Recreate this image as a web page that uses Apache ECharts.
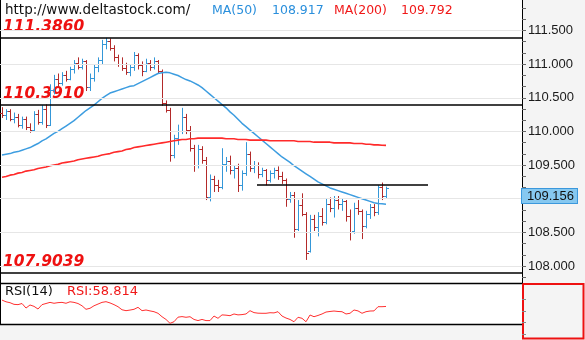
<!DOCTYPE html>
<html><head><meta charset="utf-8">
<script src="https://cdn.jsdelivr.net/npm/echarts@6/dist/echarts.min.js"></script>
<style>html,body{margin:0;padding:0;background:#fff;}#c{width:585px;height:340px;}</style>
</head><body><div id="c"></div>
<script>
// ---- data ----
const opens  = [110.28,110.25,110.30,110.18,110.22,110.10,110.18,110.06,110.02,110.26,110.14,110.34,110.10,110.62,110.78,110.72,110.84,110.78,110.92,111.02,110.96,111.04,110.66,110.80,110.96,111.06,111.30,111.34,111.24,111.10,111.00,110.94,110.88,110.96,111.14,110.98,110.90,111.02,110.96,111.04,110.90,110.42,110.32,109.65,109.90,110.00,110.22,110.02,109.76,109.50,109.74,109.58,109.02,109.30,109.20,109.18,109.52,109.56,109.42,109.46,109.20,109.38,109.66,109.46,109.50,109.36,109.42,109.28,109.38,109.42,109.34,109.28,109.00,109.06,108.55,108.90,108.78,108.22,108.70,108.58,108.74,108.66,108.92,108.86,108.98,108.92,108.96,108.74,108.52,108.86,108.82,108.60,108.78,108.88,108.80,109.18,109.04];
const highs  = [110.36,110.33,110.33,110.28,110.26,110.22,110.22,110.12,110.30,110.32,110.39,110.40,110.70,110.84,110.86,110.88,110.90,110.96,111.06,111.10,111.08,111.06,110.86,111.00,111.10,111.36,111.39,111.38,111.28,111.14,111.10,111.02,111.00,111.18,111.16,111.04,111.08,111.06,111.10,111.06,110.92,110.46,110.35,109.95,110.10,110.35,110.26,110.08,109.80,109.80,109.78,109.62,109.36,109.34,109.28,109.75,109.62,109.64,109.50,109.52,109.42,109.84,109.70,109.56,109.54,109.46,109.44,109.42,109.46,109.48,109.40,109.30,109.10,109.10,108.98,109.08,108.80,108.76,108.76,108.80,108.86,109.00,109.02,109.04,109.04,109.00,108.98,108.84,108.94,108.98,108.84,108.82,108.92,108.92,109.20,109.24,109.18];
const lows   = [110.20,110.17,110.15,110.12,110.06,110.04,110.02,109.98,110.00,110.10,110.10,110.05,110.08,110.55,110.66,110.68,110.74,110.76,110.86,110.92,110.92,110.60,110.60,110.74,110.88,111.00,111.22,111.20,111.04,110.96,110.90,110.84,110.82,110.90,110.92,110.82,110.88,110.90,110.92,110.86,110.38,110.28,109.55,109.60,109.80,109.96,109.96,109.70,109.40,109.45,109.52,108.98,108.96,109.10,109.10,109.14,109.40,109.36,109.30,109.10,109.12,109.34,109.40,109.38,109.30,109.32,109.20,109.24,109.30,109.28,109.22,108.88,108.94,108.42,108.52,108.74,108.09,108.20,108.52,108.44,108.60,108.62,108.80,108.72,108.84,108.82,108.66,108.38,108.48,108.76,108.40,108.56,108.70,108.74,108.76,108.98,109.00];
const closes = [110.25,110.30,110.18,110.22,110.10,110.18,110.06,110.02,110.26,110.14,110.34,110.10,110.62,110.78,110.72,110.84,110.78,110.92,111.02,110.96,111.04,110.66,110.80,110.96,111.06,111.30,111.34,111.24,111.10,111.00,110.94,110.88,110.96,111.14,110.98,110.90,111.02,110.96,111.04,110.90,110.42,110.32,109.65,109.90,110.00,110.22,110.02,109.76,109.50,109.74,109.58,109.02,109.30,109.20,109.18,109.52,109.56,109.42,109.46,109.20,109.38,109.66,109.46,109.50,109.36,109.42,109.28,109.38,109.42,109.34,109.28,109.00,109.06,108.55,108.90,108.78,108.20,108.70,108.58,108.74,108.66,108.92,108.86,108.98,108.92,108.96,108.74,108.50,108.86,108.82,108.60,108.78,108.88,108.80,109.18,109.04,109.156];
const ma50   = [109.65,109.66,109.67,109.69,109.70,109.72,109.74,109.76,109.79,109.82,109.86,109.89,109.93,109.97,110.00,110.04,110.08,110.12,110.16,110.21,110.26,110.31,110.35,110.39,110.44,110.49,110.53,110.57,110.59,110.61,110.63,110.65,110.67,110.68,110.71,110.74,110.77,110.80,110.83,110.86,110.87,110.88,110.87,110.85,110.83,110.80,110.77,110.75,110.72,110.69,110.65,110.60,110.55,110.50,110.45,110.40,110.35,110.29,110.24,110.18,110.12,110.07,110.02,109.97,109.92,109.87,109.82,109.77,109.72,109.67,109.62,109.58,109.54,109.49,109.45,109.41,109.37,109.33,109.29,109.25,109.22,109.19,109.16,109.14,109.12,109.10,109.08,109.06,109.04,109.02,109.00,108.98,108.96,108.94,108.93,108.925,108.917];
const ma200  = [109.32,109.33,109.35,109.36,109.38,109.39,109.41,109.42,109.43,109.45,109.46,109.47,109.49,109.50,109.51,109.53,109.54,109.55,109.56,109.58,109.59,109.60,109.61,109.62,109.63,109.65,109.66,109.67,109.69,109.70,109.71,109.73,109.74,109.76,109.77,109.78,109.79,109.80,109.81,109.82,109.83,109.84,109.85,109.86,109.87,109.88,109.88,109.89,109.89,109.90,109.90,109.90,109.90,109.90,109.90,109.90,109.89,109.89,109.89,109.88,109.88,109.88,109.87,109.87,109.87,109.87,109.87,109.86,109.86,109.86,109.86,109.86,109.86,109.86,109.85,109.85,109.85,109.85,109.84,109.84,109.84,109.84,109.84,109.83,109.83,109.83,109.83,109.83,109.82,109.82,109.82,109.81,109.81,109.80,109.80,109.795,109.792];
const rsi    = [70,67,65.4,62.5,62,64,56,61.4,59,54.3,62,64,66,64.4,65.5,66,64.4,67,66,64,60,53.8,55.6,60,63,66,67.2,65,62,58.4,53,51.4,52.5,53.8,57.3,51.4,52.6,51,49.6,46.8,40.8,36,29.2,32,40,41,39.8,40.8,36,34,36,34,34,42,38,44,43.5,42.6,45.6,44,44.5,45.6,51.4,48,47,46.8,46.8,47.8,47.5,49.6,42,38.5,36,32,39.8,38,32,43.8,40.8,43,45.6,49,50,50.8,50,49.6,45.6,46.8,52.6,51,46.8,49.6,50.8,51,58.4,58.4,58.814];
const levels = [111.3860, 110.3910, 107.9039];
const resistance = {from: 63.75, to: 106.5, value: 109.214};
const yLabels = [108.0, 108.5, 109.5, 110.0, 110.5, 111.0, 111.5];
const gridLevels = [108.0, 108.5, 109.0, 109.5, 110.0, 110.5, 111.0, 111.5];
const lastPrice = 109.156;
const ma50Last = 108.917, ma200Last = 109.792, rsiLast = 58.814;

// ---- build ----
const UP = '#3497d8', DOWN = '#b32a2a';
const minorTicks = [];
for (let k = -1; k <= 23; k++) minorTicks.push(108 + k / 6);

const ohlc = opens.map((o, i) => [i, o, highs[i], lows[i], closes[i]]);
const idx = (arr) => arr.map((v, i) => [i, v]);

const chart = echarts.init(document.getElementById('c'), null, {renderer: 'canvas'});
const crisp = v => Math.round(v) + 0.5;

chart.setOption({
  animation: false,
  backgroundColor: '#f4f4f4',
  grid: [
    {left: 0, top: 0, width: 522, height: 283, show: true, backgroundColor: '#ffffff', borderWidth: 0},
    {left: 0, top: 283, width: 522, height: 41, show: true, backgroundColor: '#ffffff', borderWidth: 0}
  ],
  xAxis: [
    {type: 'value', gridIndex: 0, min: -0.5, max: 130, show: false},
    {type: 'value', gridIndex: 1, min: -0.5, max: 130, show: false}
  ],
  yAxis: [
    {type: 'value', gridIndex: 0, position: 'right', min: 107.7474, max: 111.9525,
     axisLine: {show: true, onZero: false, lineStyle: {color: '#000', width: 1}},
     axisTick: {show: true, customValues: minorTicks, length: 4, lineStyle: {color: '#666'}},
     axisLabel: {show: true, customValues: yLabels, formatter: v => Number(v).toFixed(3),
                 color: '#1a1a1a', fontFamily: 'Liberation Sans', fontSize: 13, margin: 6},
     splitLine: {show: false}},
    {type: 'value', gridIndex: 1, min: 28, max: 100, show: false}
  ],
  graphic: [
    {type: 'line', shape: {x1: 0.5, y1: 0, x2: 0.5, y2: 324}, style: {stroke: '#000', lineWidth: 1}},
    {type: 'line', shape: {x1: 0, y1: 283.5, x2: 522, y2: 283.5}, style: {stroke: '#000', lineWidth: 1.5}},
    {type: 'line', shape: {x1: 0, y1: 324.5, x2: 522, y2: 324.5}, style: {stroke: '#000', lineWidth: 1.5}},
    {type: 'rect', shape: {x: 523, y: 284, width: 60.5, height: 54.5}, style: {fill: null, stroke: '#ee1111', lineWidth: 2}},
    {type: 'line', shape: {x1: 522, y1: 299.5, x2: 526, y2: 299.5}, style: {stroke: '#888', lineWidth: 1}},
    {type: 'line', shape: {x1: 522, y1: 311.5, x2: 526, y2: 311.5}, style: {stroke: '#888', lineWidth: 1}},
    {type: 'line', shape: {x1: 522, y1: 322.5, x2: 526, y2: 322.5}, style: {stroke: '#888', lineWidth: 1}},
    {type: 'line', shape: {x1: 522, y1: 334.5, x2: 526, y2: 334.5}, style: {stroke: '#888', lineWidth: 1}},
    {type: 'text', x: 5, y: 10.5, style: {text: 'http://www.deltastock.com/', fill: '#111', font: '13.5px "DejaVu Sans"', verticalAlign: 'middle'}},
    {type: 'text', x: 212, y: 10.5, style: {text: 'MA(50)', fill: '#2a8fdc', font: '12.5px "DejaVu Sans"', verticalAlign: 'middle'}},
    {type: 'text', x: 272, y: 10.5, style: {text: ma50Last.toFixed(3), fill: '#2a8fdc', font: '12.5px "DejaVu Sans"', verticalAlign: 'middle'}},
    {type: 'text', x: 334, y: 10.5, style: {text: 'MA(200)', fill: '#f01818', font: '12.5px "DejaVu Sans"', verticalAlign: 'middle'}},
    {type: 'text', x: 401, y: 10.5, style: {text: ma200Last.toFixed(3), fill: '#f01818', font: '12.5px "DejaVu Sans"', verticalAlign: 'middle'}},
    {type: 'text', x: 3, y: 26.5, style: {text: levels[0].toFixed(4), fill: '#ee1111', font: 'italic bold 15.5px "DejaVu Sans"', verticalAlign: 'middle'}},
    {type: 'text', x: 3, y: 93.5, style: {text: levels[1].toFixed(4), fill: '#ee1111', font: 'italic bold 15.5px "DejaVu Sans"', verticalAlign: 'middle'}},
    {type: 'text', x: 3, y: 261.5, style: {text: levels[2].toFixed(4), fill: '#ee1111', font: 'italic bold 15.5px "DejaVu Sans"', verticalAlign: 'middle'}},
    {type: 'text', x: 5, y: 292, style: {text: 'RSI(14)', fill: '#111', font: '13px "DejaVu Sans"', verticalAlign: 'middle'}},
    {type: 'text', x: 67, y: 292, style: {text: 'RSI:' + rsiLast.toFixed(3), fill: '#f01818', font: '13px "DejaVu Sans"', verticalAlign: 'middle'}}
  ],
  series: [
    {type: 'line', xAxisIndex: 0, yAxisIndex: 0, data: [], z: 1, silent: true,
     markLine: {silent: true, symbol: 'none', animation: false, label: {show: false},
       lineStyle: {color: '#e6e6e6', width: 1, type: 'solid'},
       data: gridLevels.map(v => ({yAxis: v}))}},
    {type: 'custom', xAxisIndex: 0, yAxisIndex: 0, z: 3,
     encode: {x: 0, y: [1, 2, 3, 4]},
     data: ohlc,
     renderItem: function (params, api) {
       const i = api.value(0), o = api.value(1), h = api.value(2), l = api.value(3), c = api.value(4);
       const ph = api.coord([i, h]), pl = api.coord([i, l]), po = api.coord([i, o]), pc = api.coord([i, c]);
       const x = crisp(ph[0]);
       const style = {stroke: c >= o ? UP : DOWN, lineWidth: 1};
       return {type: 'group', children: [
         {type: 'line', shape: {x1: x, y1: ph[1], x2: x, y2: pl[1]}, style: style},
         {type: 'line', shape: {x1: x - 2.5, y1: crisp(po[1]), x2: x, y2: crisp(po[1])}, style: style},
         {type: 'line', shape: {x1: x, y1: crisp(pc[1]), x2: x + 2.5, y2: crisp(pc[1])}, style: style}
       ]};
     }},
    {type: 'line', xAxisIndex: 0, yAxisIndex: 0, data: idx(ma50), showSymbol: false, z: 4,
     lineStyle: {color: '#3d9de0', width: 1.5}},
    {type: 'line', xAxisIndex: 0, yAxisIndex: 0, data: idx(ma200), showSymbol: false, z: 4,
     lineStyle: {color: '#ff2a2a', width: 1.6}},
    {type: 'line', xAxisIndex: 0, yAxisIndex: 0, data: [], z: 5, silent: true,
     markLine: {silent: true, symbol: 'none', animation: false, label: {show: false},
       lineStyle: {color: '#000', width: 1.5, type: 'solid'},
       data: levels.map(v => ({yAxis: v})).concat([[
         {coord: [resistance.from, resistance.value]},
         {coord: [resistance.to, resistance.value]}
       ]])}},
    {type: 'line', xAxisIndex: 0, yAxisIndex: 0, data: [], z: 6, silent: true,
     markLine: {silent: true, symbol: 'none', animation: false,
       lineStyle: {color: 'rgba(0,0,0,0)', width: 1},
       label: {show: true, position: 'end', distance: 0, formatter: lastPrice.toFixed(3),
               backgroundColor: '#86c8f0', borderColor: '#3b98dc', borderWidth: 1,
               padding: [1, 3, 0, 5], color: '#111', fontFamily: 'Liberation Sans', fontSize: 13},
       data: [{yAxis: 109.04}]}},
    {type: 'line', xAxisIndex: 1, yAxisIndex: 1, data: idx(rsi), showSymbol: false, z: 4,
     lineStyle: {color: '#ff3030', width: 1}}
  ]
});
</script></body></html>
